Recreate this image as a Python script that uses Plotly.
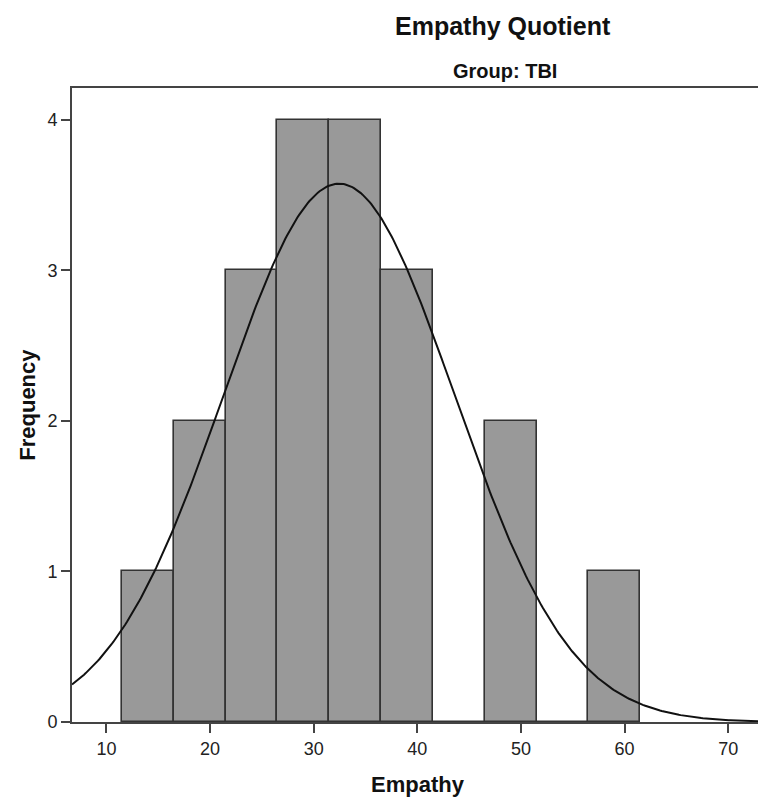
import numpy as np
import plotly.graph_objects as go

# Histogram of Empathy Quotient scores, TBI group (bin width 5)
bin_centers = [14, 19, 24, 29, 34, 39, 44, 49, 54, 59]
frequencies = [1, 2, 3, 4, 4, 3, 0, 2, 0, 1]
bin_width = 5

# Fitted normal curve parameters
mean_score = 32.45
sd_score = 11.16
n_cases = sum(frequencies)

x_tick_vals = [10, 20, 30, 40, 50, 60, 70]
y_tick_vals = [0, 1, 2, 3, 4]

x_range = [6.68, 72.87]
y_range = [0, 4.21]

FONT = "Liberation Sans, Arial, Helvetica, sans-serif"

curve_x = np.linspace(x_range[0], x_range[1], 400)
curve_y = (n_cases * bin_width / (sd_score * np.sqrt(2 * np.pi))
           * np.exp(-0.5 * ((curve_x - mean_score) / sd_score) ** 2))

fig = go.Figure()
fig.add_trace(go.Bar(
    x=bin_centers, y=frequencies, width=bin_width,
    marker=dict(color="#999999", line=dict(color="#333333", width=1.6)),
    showlegend=False,
))
fig.add_trace(go.Scatter(
    x=curve_x, y=curve_y, mode="lines",
    line=dict(color="#111111", width=2),
    showlegend=False,
))

axis_common = dict(
    showgrid=False, zeroline=False, showline=True,
    linecolor="#444444", linewidth=2,
    ticks="outside", ticklen=9, tickwidth=2, tickcolor="#444444",
    tickfont=dict(family=FONT, size=18, color="#222222"),
)

fig.update_layout(
    width=758, height=801,
    margin=dict(l=72, r=0, t=88, b=79),
    paper_bgcolor="white", plot_bgcolor="white",
    bargap=0,
    xaxis=dict(range=x_range, tickvals=x_tick_vals, mirror=True, **axis_common),
    yaxis=dict(range=y_range, tickvals=y_tick_vals, **axis_common),
    annotations=[
        dict(text="<b>Empathy Quotient</b>", x=0.628, y=1.098, xref="paper", yref="paper",
             xanchor="center", yanchor="middle", showarrow=False,
             font=dict(family=FONT, size=25, color="#111111")),
        dict(text="<b>Group: TBI</b>", x=0.631, y=1.027, xref="paper", yref="paper",
             xanchor="center", yanchor="middle", showarrow=False,
             font=dict(family=FONT, size=20, color="#111111")),
        dict(text="<b>Empathy</b>", x=0.505, y=-0.099, xref="paper", yref="paper",
             xanchor="center", yanchor="middle", showarrow=False,
             font=dict(family=FONT, size=22, color="#111111")),
        dict(text="<b>Frequency</b>", x=-0.066, y=0.5, xref="paper", yref="paper",
             xanchor="center", yanchor="middle", showarrow=False, textangle=-90,
             font=dict(family=FONT, size=22, color="#111111")),
    ],
)

fig.write_html("out.html")
